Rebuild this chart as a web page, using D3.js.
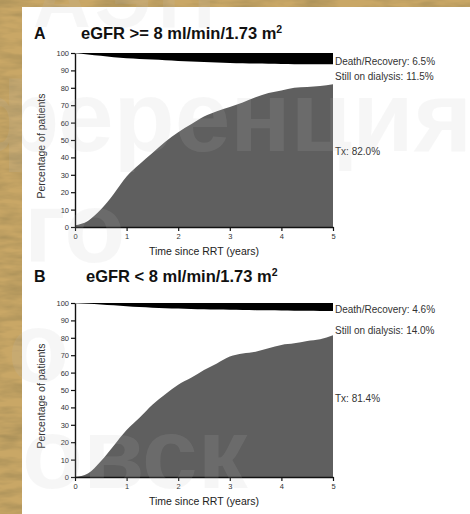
<!DOCTYPE html>
<html>
<head>
<meta charset="utf-8">
<script src="https://cdn.jsdelivr.net/npm/d3@7"></script>
<style>
  html, body { margin: 0; padding: 0; background: #c8a96f; }
  svg { display: block; font-family: "Liberation Sans", Arial, sans-serif; }
</style>
</head>
<body>
<div id="chart"></div>
<script>
// time grid (years since RRT)
const years = [0, 0.25, 0.5, 0.75, 1, 1.25, 1.5, 1.75, 2, 2.25, 2.5, 2.75, 3, 3.25, 3.5, 3.75, 4, 4.25, 4.5, 4.75, 5]

// panel A: eGFR >= 8
const deathA = [99.8, 99.2, 98.4, 97.6, 97.0, 96.6, 96.2, 95.8, 95.4, 95.1, 94.8, 94.5, 94.3, 94.1, 93.9, 93.8, 93.7, 93.6, 93.6, 93.5, 93.5]
const txA = [1, 3.5, 10, 19, 29, 36, 42.5, 49, 54.5, 59, 63.5, 66.5, 69, 71.5, 74.5, 77, 78.5, 80, 80.5, 81, 82]
const labelsA = ["Death/Recovery: 6.5%", "Still on dialysis: 11.5%", "Tx: 82.0%"]

// panel B: eGFR < 8
const deathB = [99.9, 99.6, 99.2, 98.7, 98.2, 97.7, 97.3, 97.0, 96.8, 96.6, 96.4, 96.2, 96.1, 96.0, 95.9, 95.8, 95.7, 95.6, 95.5, 95.4, 95.4]
const txB = [0, 2, 9, 18, 27, 34, 41.5, 47.5, 53, 57, 61.5, 65.3, 69.2, 71, 72, 74, 75.9, 76.8, 78.2, 79.1, 81.4]
const labelsB = ["Death/Recovery: 4.6%", "Still on dialysis: 14.0%", "Tx: 81.4%"]

const yTicks = [0, 10, 20, 30, 40, 50, 60, 70, 80, 90, 100]
const xTicks = [0, 1, 2, 3, 4, 5]
const watermark = ["АЭП", "ференция", "го", "о", "овск"]

const width = 470, height = 514

const svg = d3.select("div#chart").append("svg").attr("width", width).attr("height", height)

// parchment background
const defs = svg.append("defs")
const paper = defs.append("filter").attr("id", "paper").attr("x", 0).attr("y", 0).attr("width", 1).attr("height", 1)
paper.append("feTurbulence").attr("type", "fractalNoise").attr("baseFrequency", "0.03 0.12").attr("numOctaves", 3).attr("seed", 4)
paper.append("feColorMatrix").attr("type", "matrix")
    .attr("values", "0 0 0 0 0.40  0 0 0 0 0.28  0 0 0 0 0.10  1.8 0 0 0 -0.6")

svg.append("rect").attr("width", width).attr("height", height).attr("fill", "#c9a766")
svg.append("rect").attr("width", width).attr("height", height).attr("filter", "url(#paper)")

// white slide panel
svg.append("rect").attr("x", 22).attr("y", 7).attr("width", width - 22).attr("height", height - 7).attr("fill", "#ffffff")

const x = d3.scaleLinear().domain([0, 5]).range([75, 333])

const panels = [
    { letter: "A", title: "eGFR >= 8 ml/min/1.73 m", death: deathA, tx: txA, labels: labelsA,
      top: 53, bottom: 227, titleY: 39, labelY: [61, 76, 151] },
    { letter: "B", title: "eGFR < 8 ml/min/1.73 m", death: deathB, tx: txB, labels: labelsB,
      top: 303, bottom: 477, titleY: 282, labelY: [309, 330, 398] }
]

panels.forEach(p => {
    const y = d3.scaleLinear().domain([0, 100]).range([p.bottom, p.top])
    const g = svg.append("g").attr("class", "panel" + p.letter)

    // black band: death / recovery
    const bandArea = d3.area()
        .x((d, i) => x(years[i]))
        .y0(d => y(d))
        .y1(y(100))
        .curve(d3.curveMonotoneX)
    g.append("path").datum(p.death).attr("d", bandArea).attr("fill", "#000")

    // grey area: transplanted
    const txArea = d3.area()
        .x((d, i) => x(years[i]))
        .y0(y(0))
        .y1(d => y(d))
        .curve(d3.curveMonotoneX)
    g.append("path").datum(p.tx).attr("d", txArea).attr("fill", "#5f5f5f")

    // axes
    const yAxis = d3.axisLeft(y).tickValues(yTicks).tickSize(4).tickSizeOuter(0).tickPadding(2)
    const xAxis = d3.axisBottom(x).tickValues(xTicks).tickFormat(d3.format("d")).tickSize(4).tickSizeOuter(0).tickPadding(3)
    const yg = g.append("g").attr("transform", `translate(${x(0)},0)`).call(yAxis)
    const xg = g.append("g").attr("transform", `translate(0,${y(0)})`).call(xAxis)
    ;[yg, xg].forEach(a => {
        a.select(".domain").attr("stroke", "#111").attr("stroke-width", 1.4)
        a.selectAll(".tick line").attr("stroke", "#111").attr("stroke-width", 1.2)
        a.selectAll(".tick text").attr("fill", "#333").style("font-size", "7.5px")
    })

    // titles
    g.append("text").attr("x", 34).attr("y", p.titleY).text(p.letter)
        .style("font-size", "16px").style("font-weight", "bold").attr("fill", "#111")
    const t = g.append("text").attr("x", p.letter === "A" ? 81 : 86).attr("y", p.titleY)
        .style("font-size", "16.5px").style("font-weight", "bold").attr("fill", "#111")
    t.append("tspan").text(p.title)
    t.append("tspan").text("2").attr("dy", -6).style("font-size", "10.5px")

    g.append("text").attr("x", (x(0) + x(5)) / 2).attr("y", p.bottom + 28).attr("text-anchor", "middle")
        .style("font-size", "10.5px").attr("fill", "#222").text("Time since RRT (years)")
    g.append("text").attr("transform", `translate(45,${(p.top + p.bottom) / 2 + 6}) rotate(-90)`)
        .attr("text-anchor", "middle").style("font-size", "10.5px").attr("fill", "#333").text("Percentage of patients")

    // right-hand labels
    p.labels.forEach((l, i) => {
        g.append("text").attr("x", 335).attr("y", p.labelY[i]).attr("dy", "0.35em")
            .style("font-size", "10px").attr("fill", "#333").text(l)
    })
})

// faint watermark lying over the slide
const wm = svg.append("g").attr("fill", "#c0c0c0").attr("opacity", 0.13)
    .style("font-size", "100px").style("font-weight", "bold")
wm.append("text").attr("x", 33).attr("y", 27).style("font-size", "80px").attr("letter-spacing", 6).text(watermark[0])
wm.append("text").attr("x", 472).attr("y", 151).attr("text-anchor", "end").text(watermark[1])
wm.append("text").attr("x", 24).attr("y", 262).text(watermark[2])
wm.append("text").attr("x", 8).attr("y", 382).text(watermark[3])
wm.append("text").attr("x", 22).attr("y", 488).text(watermark[4])
</script>
</body>
</html>
